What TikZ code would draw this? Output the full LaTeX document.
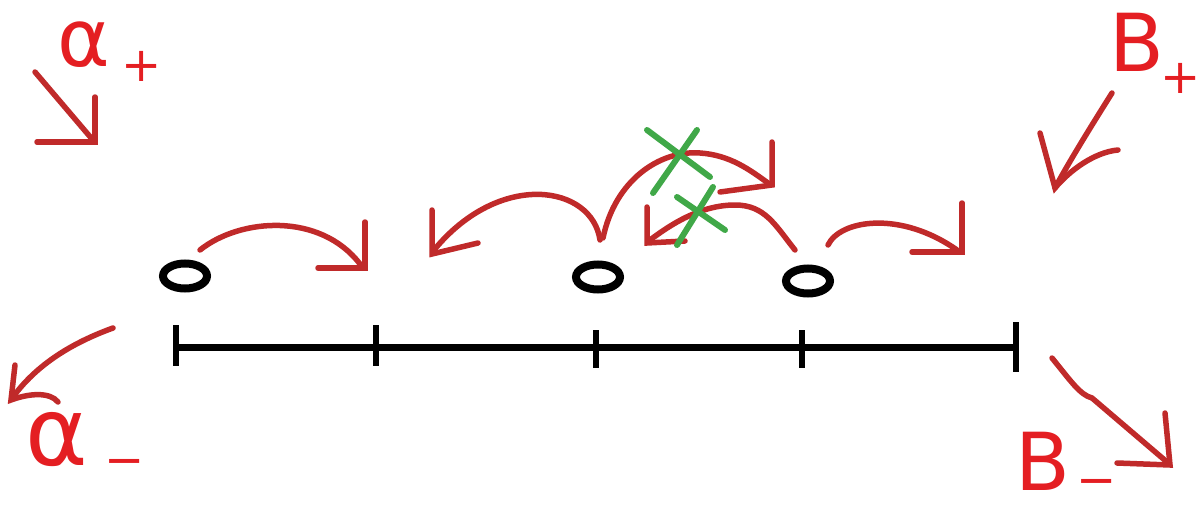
\documentclass[tikz,border=0pt]{standalone}
\usepackage{fontspec}
\usetikzlibrary{shapes.geometric}
\newfontfamily\handfont{DejaVu Sans}
\definecolor{inkred}{RGB}{192,42,42}
\definecolor{labelred}{RGB}{228,30,34}
\definecolor{inkgreen}{RGB}{64,168,72}
\tikzset{
  stroke/.style={inkred, line width=5.5pt, line cap=round, line join=round},
  barb/.style={inkred, line width=5.5pt, line cap=round, line join=miter},
  axis/.style={black, line width=7pt},
  tickmark/.style={black, line width=5.5pt},
  dot/.style={draw=black, line width=8pt, ellipse, minimum width=44pt, minimum height=25pt, inner sep=0pt},
  cross/.style={inkgreen, line width=6pt, line cap=round},
  glyph/.style={labelred, font=\handfont\fontsize{80}{80}\selectfont, inner sep=0pt},
  bigglyph/.style={labelred, font=\handfont\fontsize{95}{95}\selectfont, inner sep=0pt},
  sign/.style={labelred, font=\handfont\fontsize{48}{48}\selectfont, inner sep=0pt}
}
\begin{document}
\begin{tikzpicture}[x=1pt,y=-1pt]
\useasboundingbox (0,0) rectangle (1204,511);

% the line with its tick marks
\coordinate (L) at (176,347);
\coordinate (R) at (1016,347);
\draw[axis] (L) -- (R);
\foreach \x/\a/\b in {176/325/366, 376/325/366, 596/330/368, 802/330/368, 1016/322/372}
  \draw[tickmark] (\x,\a) -- (\x,\b);

% particles
\node[dot] (p1) at (185,276) {};
\node[dot] (p2) at (598,277) {};
\node[dot] (p3) at (808,281) {};

% hops
\coordinate (t1) at (365,268);
\draw[stroke] (200,250) .. controls (240,218) and (320,212) .. (360,264);
\draw[barb] (365,222) -- (t1) -- (318,268);

\coordinate (t2) at (432,254);
\draw[stroke] (600,240) .. controls (592,185) and (500,170) .. (434,250);
\draw[barb] (432,210) -- (t2) -- (478,243);

\coordinate (t3) at (772,185);
\draw[stroke] (603,238) .. controls (615,180) and (660,150) .. (700,153)
  .. controls (730,155) and (750,170) .. (768,183);
\draw[barb] (772,142) -- (t3) -- (720,192);

\coordinate (t4) at (647,243);
\draw[stroke] (795,250) .. controls (775,225) and (765,205) .. (735,205)
  .. controls (700,205) and (670,225) .. (650,240);
\draw[barb] (647,207) -- (t4) -- (685,241);

\coordinate (t5) at (962,252);
\draw[stroke] (828,245) .. controls (840,220) and (900,210) .. (957,250);
\draw[barb] (962,203) -- (t5) -- (912,252);

% blocked hops
\draw[cross] (647,130) -- (710,177);
\draw[cross] (697,130) -- (653,193);
\draw[cross] (677,197) -- (725,230);
\draw[cross] (713,187) -- (677,245);

% boundary rates
\coordinate (ap) at (95,142);
\draw[stroke] (35,72) -- (92,139);
\draw[barb] (95,97) -- (ap) -- (37,142);

\coordinate (am) at (11,400);
\draw[stroke] (113,328) .. controls (80,340) and (40,360) .. (13,397);
\draw[barb] (15,365) -- (am) .. controls (30,393) and (50,392) .. (58,402);

\coordinate (bp) at (1055,188);
\draw[stroke] (1112,93) .. controls (1095,120) and (1070,160) .. (bp);
\draw[barb] (1040,133) -- (bp) .. controls (1070,170) and (1095,152) .. (1118,150);

\coordinate (bm) at (1170,465);
\draw[stroke] (1052,358) .. controls (1070,380) and (1080,395) .. (1092,398) -- (1167,462);
\draw[barb] (1165,413) -- (bm) -- (1117,463);

% labels
\node[glyph] (alphap) at (84,45) {α};
\node[sign] (alphaps) at (142,66) {+};
\node[bigglyph] (alpham) at (57,440) {α};
\node[sign] (alphams) at (125,468) {−};
\node[glyph] (betap) at (1137,42) {B};
\node[sign] (betaps) at (1181,78) {+};
\node[glyph] (betam) at (1043,461) {B};
\node[sign] (betams) at (1097,488) {−};
\end{tikzpicture}
\end{document}
